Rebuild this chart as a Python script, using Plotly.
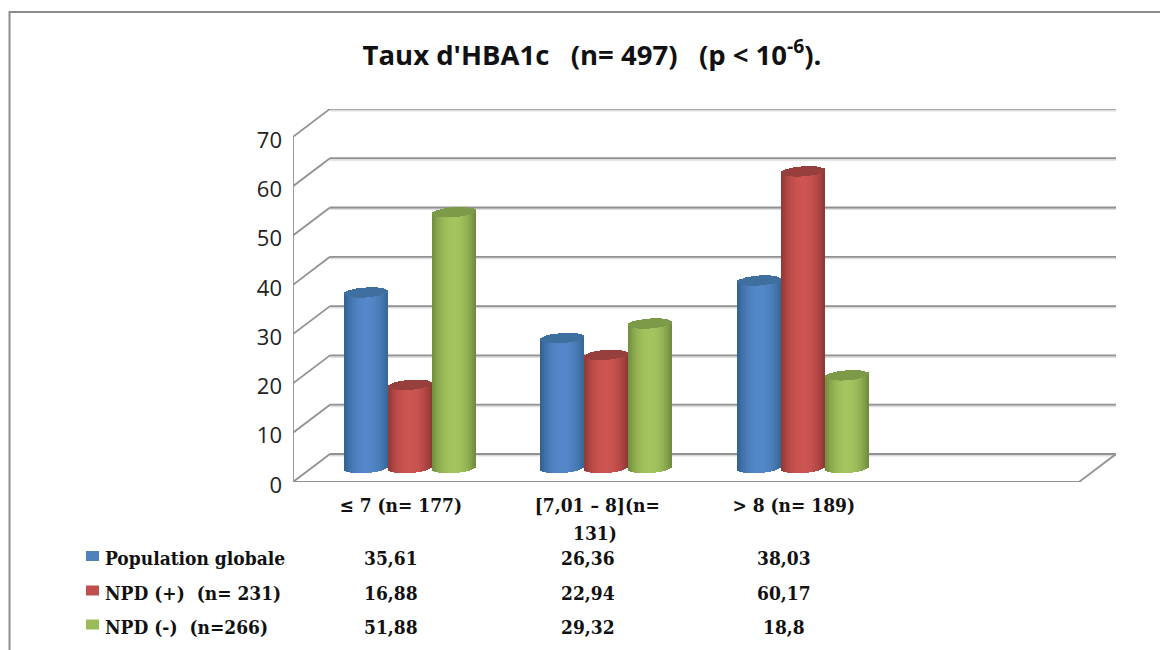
import math
import plotly.graph_objects as go

# ---- data ----
categories = ["≤ 7 (n= 177)", "[7,01 – 8](n=", "> 8 (n= 189)"]
category_second_line = ["", "131)", ""]
series_names = ["Population globale", "NPD (+)  (n= 231)", "NPD (-)  (n=266)"]
population_globale = [35.61, 26.36, 38.03]
npd_plus = [16.88, 22.94, 60.17]
npd_minus = [51.88, 29.32, 18.8]
table_text = [
    ["35,61", "26,36", "38,03"],
    ["16,88", "22,94", "60,17"],
    ["51,88", "29,32", "18,8"],
]
y_ticks = [0, 10, 20, 30, 40, 50, 60, 70]
title = "Taux d'HBA1c\u00a0\u00a0\u00a0(n= 497)\u00a0\u00a0\u00a0(p < 10<sup>-6</sup>)."

# ---- styles / layout ----
W, H = 1160, 650
L, R, T, B = 293, 1116, 109, 482  # plot box in pixels
UNIT = 4.93          # px per value unit
CAT = 196.5          # px per category
DX, DY = 18.5, 14    # half depth of the 3D box in pixels
BAR = 44             # px
RY = 5               # ellipse half height in px
TILT = 1.5           # ellipse tilt in px
STRIPS = 22
EDGE = "#929292"
TABLE_FONT = dict(family="DejaVu Serif Condensed, DejaVu Serif", size=19, color="#111111")
palettes = [
    dict(edgeL="#2f5f8e", mid="#5387c9", edgeR="#356594", top="#3f6f9f", key="#4f81bd"),
    dict(edgeL="#8e3735", mid="#cc5451", edgeR="#8a3533", top="#973f3d", key="#c0504d"),
    dict(edgeL="#6f8c3e", mid="#a3c45e", edgeR="#6b873a", top="#7d9a48", key="#9bbb59"),
]


def px(x):
    return (x - L) / (R - L)


def py(y):
    return (B - y) / (B - T)


def mix(a, b, t):
    ca = [int(a[i:i + 2], 16) for i in (1, 3, 5)]
    cb = [int(b[i:i + 2], 16) for i in (1, 3, 5)]
    return "#%02x%02x%02x" % tuple(round(u + (v - u) * t) for u, v in zip(ca, cb))


# x axis: category index, with the box half depth on both sides
x0 = -0.5 - DX / CAT
x1 = 3.5 + DX / CAT
# y2 axis: the mid plane, where the bars stand
y2_lo = -DY / UNIT
y2_hi = y2_lo + (B - T) / UNIT
# y axis: the front plane, which carries the tick labels
y_hi = (B - T) / UNIT

fig = go.Figure()

# invisible trace so that the front-plane axis is drawn
fig.add_trace(go.Scatter(x=[0], y=[0], mode="markers", marker=dict(opacity=0),
                         showlegend=False, hoverinfo="skip", yaxis="y"))

all_series = [population_globale, npd_plus, npd_minus]
w = BAR / CAT
ry = RY / UNIT
tilt = TILT / UNIT
for s, (name, values, pal) in enumerate(zip(series_names, all_series, palettes)):
    xs, heights, bases, colors, widths = [], [], [], [], []
    sw = w / STRIPS
    for c, v in enumerate(values):
        centre = c + (s - 1) * w
        # body of the cylinder
        for k in range(STRIPS):
            t = (k + 0.5) / STRIPS * 2 - 1
            curve = math.sqrt(1 - t * t)
            shade = abs(t) ** 2.2
            col = mix(pal["mid"], pal["edgeL"] if t < 0 else pal["edgeR"], shade)
            low = -ry * curve + t * tilt
            high = v + t * tilt
            xs.append(centre + t * w / 2)
            bases.append(low)
            heights.append(high - low)
            colors.append(col)
            widths.append(sw)
        # top face of the cylinder
        for k in range(STRIPS):
            t = (k + 0.5) / STRIPS * 2 - 1
            curve = math.sqrt(1 - t * t)
            xs.append(centre + t * w / 2)
            bases.append(v + t * tilt - ry * curve)
            heights.append(2 * ry * curve)
            colors.append(pal["top"])
            widths.append(sw)
    fig.add_trace(go.Bar(x=xs, y=heights, base=bases, width=widths, name=name,
                         marker=dict(color=colors, line=dict(width=0)),
                         yaxis="y2", showlegend=False, hoverinfo="skip"))

shapes = []


def line(xa, ya, xb, yb, color=EDGE, width=1.8):
    shapes.append(dict(type="line", xref="x", yref="y2", x0=xa, y0=ya, x1=xb, y1=yb,
                       layer="below", line=dict(color=color, width=width)))


back_x = x0 + 2 * DX / CAT
front_x = x1 - 2 * DX / CAT
d = DY / UNIT
for v in y_ticks:
    # soft shadow then line on the back wall, then the side wall
    line(back_x, v + d - 0.3, x1, v + d - 0.3, "#dddddd", 2)
    line(back_x, v + d, x1, v + d)
    line(x0, v - d, back_x, v + d)
# left front edge, floor front edge, floor right edge
line(x0, y_ticks[0] - d, x0, y_ticks[-1] - d)
line(x0, -d, front_x, -d)
line(front_x, -d, x1, d)

# chart frame (runs past the right and bottom of the window)
shapes.append(dict(type="rect", xref="paper", yref="paper",
                   x0=px(9.5), x1=px(1180), y0=py(680), y1=py(12),
                   layer="below", line=dict(color="#8c8c8c", width=2)))

annotations = []
table_cols = [391, 587.5, 784]
rows_y = [558, 592.5, 626.5]
for r, (name, pal) in enumerate(zip(series_names, palettes)):
    shapes.append(dict(type="rect", xref="paper", yref="paper",
                       x0=px(86), x1=px(99), y0=py(rows_y[r] + 3), y1=py(rows_y[r] - 7),
                       line=dict(width=0), fillcolor=pal["key"]))
    annotations.append(dict(xref="paper", yref="paper", x=px(103), y=py(rows_y[r]),
                            text="<b>%s</b>" % name.replace("  ", "\u00a0\u00a0"),
                            showarrow=False, xanchor="left", yanchor="middle", font=TABLE_FONT))
    for col_x, txt in zip(table_cols, table_text[r]):
        annotations.append(dict(xref="paper", yref="paper", x=px(col_x), y=py(rows_y[r]),
                                text="<b>%s</b>" % txt, showarrow=False,
                                xanchor="center", yanchor="middle", font=TABLE_FONT))
for c, extra in enumerate(category_second_line):
    if extra:
        annotations.append(dict(xref="paper", yref="paper", x=px(table_cols[c] + 7), y=py(533),
                                text="<b>%s</b>" % extra, showarrow=False,
                                xanchor="center", yanchor="middle", font=TABLE_FONT))

fig.update_layout(
    width=W, height=H,
    margin=dict(l=L, r=W - R, t=T, b=H - B, pad=0),
    paper_bgcolor="white", plot_bgcolor="rgba(0,0,0,0)",
    barmode="overlay", bargap=0, showlegend=False,
    title=dict(text="<b>%s</b>" % title, x=592 / W, xanchor="center",
               y=1 - 55 / H, yanchor="middle",
               font=dict(family="Open Sans", size=27.5, color="#111111")),
    xaxis=dict(range=[x0, x1], tickmode="array", tickvals=[0, 1, 2],
               ticktext=["<b>%s</b>" % c for c in categories], showgrid=False, zeroline=False,
               showline=False, ticks="", tickfont=TABLE_FONT,
               ticklabelstandoff=10, ticklabelshift=-9),
    yaxis=dict(range=[0, y_hi], tickmode="array", tickvals=y_ticks, showgrid=False,
               zeroline=False, showline=False, ticks="", ticklabelstandoff=10,
               ticklabelshift=3,
               tickfont=dict(family="Open Sans", size=22, color="#222222")),
    yaxis2=dict(range=[y2_lo, y2_hi], overlaying="y", visible=False),
    shapes=shapes, annotations=annotations,
)

fig.write_html("out.html", config={"displayModeBar": False},
               post_script="document.body.style.margin='0';document.body.style.overflow='hidden';")
